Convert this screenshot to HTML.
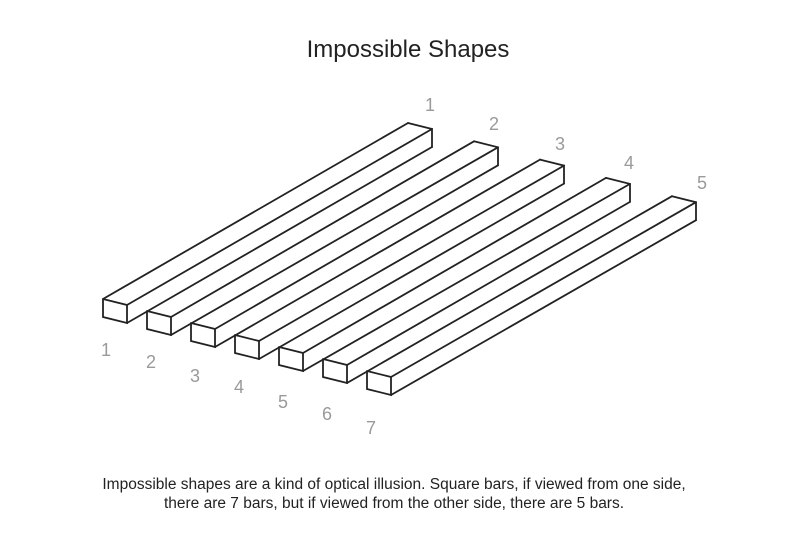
<!DOCTYPE html>
<html><head><style>
html,body{margin:0;padding:0;background:#fff;width:800px;height:533px;overflow:hidden}
svg{display:block}
text{font-family:"Liberation Sans",sans-serif}
</style></head><body>
<svg id="s" width="800" height="533" viewBox="0 0 800 533" xmlns="http://www.w3.org/2000/svg">
<text x="408" y="57" font-size="24" text-anchor="middle" fill="#222">Impossible Shapes</text>
<g id="bars" fill="none" stroke="#222" stroke-width="1.8" stroke-linejoin="miter" stroke-linecap="round"></g>
<g font-size="18" fill="#9a9a9a" text-anchor="middle">
<text x="430" y="111">1</text><text x="494" y="130">2</text><text x="560" y="150">3</text><text x="629" y="169">4</text><text x="702" y="189">5</text>
<text x="106" y="356">1</text><text x="151" y="368">2</text><text x="195" y="382">3</text><text x="239" y="393">4</text><text x="283" y="408">5</text><text x="327" y="420">6</text><text x="371" y="434">7</text>
</g>
<g font-size="15.5" fill="#222" text-anchor="middle">
<text x="394" y="489">Impossible shapes are a kind of optical illusion. Square bars, if viewed from one side,</text>
<text x="394" y="508">there are 7 bars, but if viewed from the other side, there are 5 bars.</text>
</g>
</svg>
<script>
var g=document.getElementById('bars'),NS='http://www.w3.org/2000/svg';
function pl(pts){var p=document.createElementNS(NS,'polyline');p.setAttribute('points',pts.map(function(q){return q[0].toFixed(1)+','+q[1].toFixed(1)}).join(' '));g.appendChild(p);}
var vx=305,vy=-176;
var N=[],F=[];
for(var k=0;k<7;k++){
 var ox=44*k,oy=12*k;
 var A=[103+ox,299+oy],B=[127+ox,305+oy],C=[127+ox,323+oy],D=[103+ox,317+oy];
 pl([A,B,C,D,A]);
 if(k==0)N.push(A);
 N.push(B);N.push(C);
}
for(var j=0;j<5;j++){
 var ox=66*j,oy=18.3*j;
 var A=[103+ox+vx,299+oy+vy],B=[127+ox+vx,305+oy+vy],C=[127+ox+vx,323+oy+vy];
 pl([A,B,C]);
 F.push(A);F.push(B);F.push(C);
}
for(var i=0;i<15;i++){pl([N[i],F[i]]);}
</script>
</body></html>
